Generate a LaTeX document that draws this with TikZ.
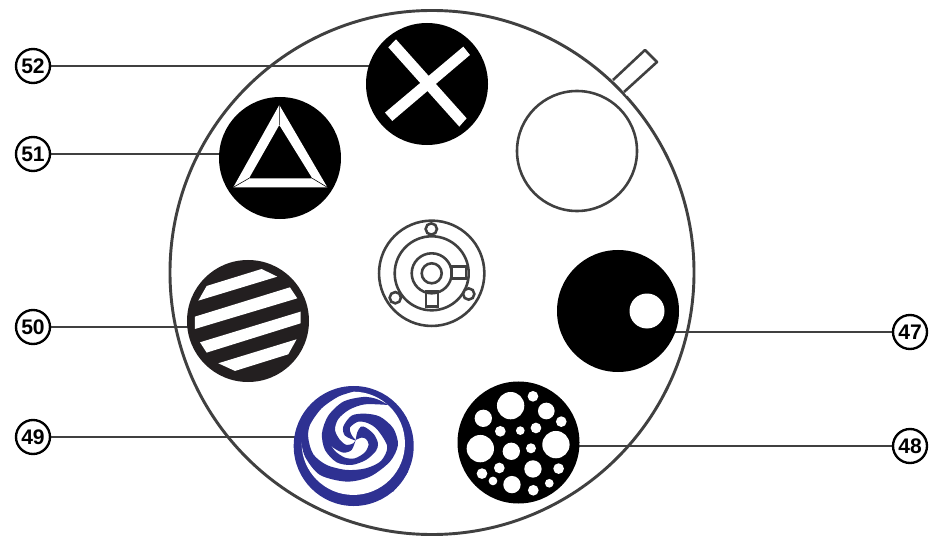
\documentclass[tikz,border=0pt]{standalone}
\usepackage{fontspec}
\setmainfont{Liberation Sans}
\usetikzlibrary{backgrounds}
\definecolor{wheelgray}{HTML}{404040}
\definecolor{spiralblue}{HTML}{2E3192}
\definecolor{stripeblack}{HTML}{231F20}
\tikzset{
  wheel/.style={circle, draw=wheelgray, line width=2.5pt, minimum size=15.72cm, inner sep=0pt},
  gobo/.style={circle, fill=black, minimum size=3.66cm, inner sep=0pt},
  hubring/.style={circle, draw=wheelgray, line width=2.2pt, inner sep=0pt},
  hubtab/.style={draw=wheelgray, line width=2.2pt},
  callout/.style={circle, draw=black, fill=white, line width=2pt, minimum size=1.02cm, inner sep=0pt, font=\bfseries\fontsize{18}{18}\selectfont},
  leader/.style={draw=wheelgray, line width=1.4pt},
  hole/.style={fill=white},
}
\begin{document}
\begin{tikzpicture}[x=0.03cm, y=-0.03cm]
  \useasboundingbox (0,0) rectangle (945,538);
  \node (wheel) [wheel] at (432,272.5) {};
  % notch and tab
  \coordinate (t1) at (613,80); \coordinate (t2) at (645,50);
  \coordinate (t3) at (657,62); \coordinate (t4) at (624,92);
  \fill[white] (611,76) -- (t2) -- (t3) -- (627,96) -- cycle;
  \draw[draw=wheelgray, line width=2.2pt, line join=round] (t1) -- (t2) -- (t3) -- (t4);

  \node (g52) [gobo] at (427,84) {};
  \node (g51) [gobo] at (280,158) {};
  \node (g50) [gobo, fill=stripeblack] at (248,321) {};
  \node (g49) [gobo, fill=spiralblue, minimum size=3.6cm] at (353.7,446) {};
  \node (g48) [gobo] at (518.5,442.5) {};
  \node (g47) [gobo] at (618,311) {};
  \node (g0) [gobo, fill=white, draw=wheelgray, line width=2.2pt, minimum size=3.6cm] at (577,151) {};

  \node (n52) [callout] at (33,66) {52};
  \node (n51) [callout] at (33,154) {51};
  \node (n50) [callout] at (33,327) {50};
  \node (n49) [callout] at (33,437) {49};
  \node (n47) [callout] at (910,332) {47};
  \node (n48) [callout] at (910,446) {48};
  \begin{scope}[on background layer]
    \foreach \n/\g in {n52/g52,n51/g51,n50/g50,n49/g49,n47/g47,n48/g48}
      \draw[leader] (\n) -- (\n -| \g);
  \end{scope}

  % X
  \begin{scope}[shift={(360,20)}, x=0.01cm, y=-0.01cm]
    \fill[white] (85,82) -- (108,58) -- (320,295) -- (298,320) -- cycle;
    \fill[white] (75,278) -- (310,80) -- (330,105) -- (97,303) -- cycle;
  \end{scope}

  % triangle
  \fill[white, even odd rule] (279.3,105) -- (327.3,187.3) -- (233.3,187.3) -- cycle
    (279.3,125) -- (312.3,178.3) -- (249,178.3) -- cycle;
  \draw[black, line width=0.5pt] (279.3,105) -- (279.3,125) (327.3,187.3) -- (312.3,178.3) (233.3,187.3) -- (249,178.3);

  % stripes
  \begin{scope}[shift={(180,255)}, x=0.01cm, y=-0.01cm]
    \fill[white] (55,137) -- (80,93) -- (245,42) -- (292,65) -- cycle;
    \fill[white] (45,185) -- (330,97) -- (352,130) -- (45,222) -- cycle;
    \fill[white] (60,262) -- (362,170) -- (362,205) -- (80,293) -- cycle;
    \fill[white] (115,325) -- (350,253) -- (325,298) -- (165,348) -- cycle;
  \end{scope}

  % spiral
  \begin{scope}[shift={(280,375)}, x=0.01cm, y=-0.01cm]
    \fill[white] (220,205) circle (155);
    \fill[spiralblue] plot[smooth] coordinates {(325,90) (290,72) (250,66) (190,80) (145,122) (126,175) (135,225) (170,262) (215,270) (258,255) (288,228) (294,205) (282,178) (258,158) (243,155) (232,172) (227,195)}
      -- plot[smooth] coordinates {(227,195) (245,188) (258,192) (266,208) (255,232) (225,250) (195,248) (165,228) (142,195)}
      -- plot[smooth] coordinates {(142,195) (160,218) (190,233) (215,225) (227,195)}
      -- plot[smooth] coordinates {(227,195) (220,205) (200,210) (180,195) (165,165) (175,132) (208,104) (255,88) (325,90)} -- cycle;
    \fill[spiralblue] plot[smooth] coordinates {(62,190) (75,245) (120,300) (200,320) (270,305) (330,260) (354,210) (340,160) (300,125) (255,116) (215,122) (190,155) (195,182) (227,197)}
      -- plot[smooth] coordinates {(227,195) (215,180) (210,158) (235,140) (265,145) (293,165) (322,215) (303,258) (258,280) (200,285) (140,270) (100,238) (85,190) (90,150) (125,100) (175,65) (220,50)}
      -- (220,38) -- (150,52) -- (90,105) -- (55,150) -- (48,190) -- cycle;
    \fill[spiralblue] (290,345) .. controls (325,328) and (350,310) .. (366,280) -- (385,290) -- (340,350) -- cycle;
  \end{scope}

  % holes
  \begin{scope}[shift={(450,375)}, x=0.01cm, y=-0.01cm]
    \foreach \cx/\cy/\r in {182/92/41,249/64/16,100/130/26,289/108/25,334/140/16,151/169/16,211/167/13,258/159/16,91/221/41,184/229/26,243/220/15,318/209/41,148/279/16,249/282/26,326/281/16,96/296/16,129/318/13,186/329/26,250/346/16,298/325/13}
      \fill[hole] (\cx,\cy) circle (\r);
  \end{scope}
  \fill[hole] (647,311) circle (17.5);

  % hub
  \node (hub0) [hubring, minimum size=3.16cm] at (431.7,273.3) {};
  \node (hub1) [hubring, minimum size=2.22cm] at (hub0) {};
  \node (hub2) [hubring, minimum size=1.2cm] at (hub0) {};
  \node (hub3) [hubring, minimum size=0.6cm] at (hub0) {};
  \node (pin1) [hubring, fill=white, minimum size=0.34cm] at (431.3,229) {};
  \node (pin2) [hubring, fill=white, minimum size=0.34cm] at (395.3,297.7) {};
  \node (pin3) [hubring, fill=white, minimum size=0.34cm] at (468.7,294) {};
  \draw[hubtab] (451.7,266.7) rectangle (466,278.3);
  \draw[hubtab] (426,291.7) rectangle (438,306.7);
\end{tikzpicture}
\end{document}
